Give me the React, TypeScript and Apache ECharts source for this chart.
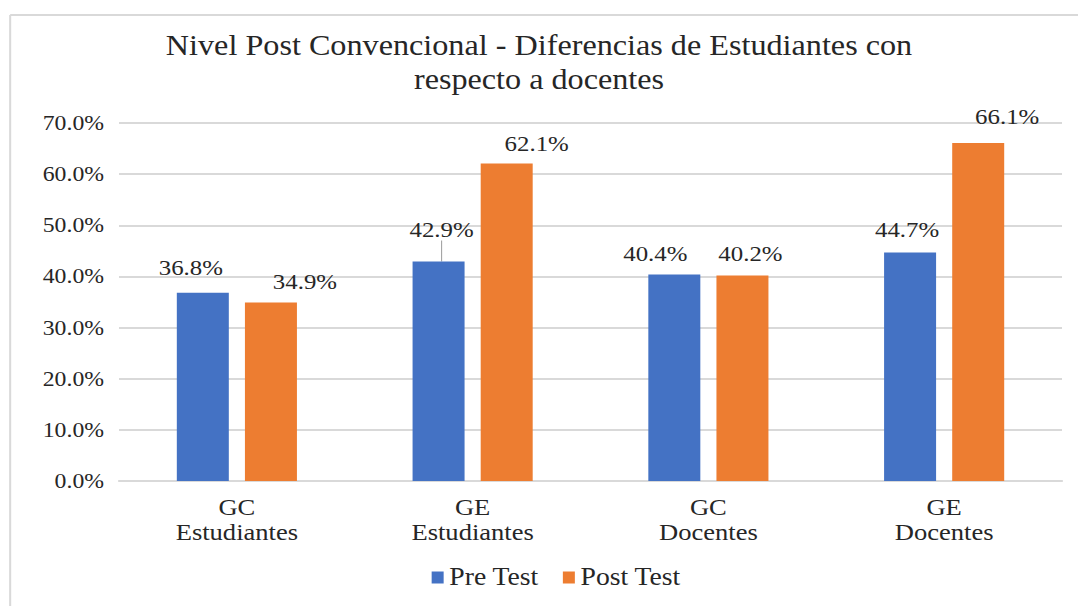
import React, { useEffect, useRef } from "react";
import * as echarts from "echarts";

const titleText = "Nivel Post Convencional - Diferencias de Estudiantes con\nrespecto a docentes";
const categories = ["GC\nEstudiantes", "GE\nEstudiantes", "GC\nDocentes", "GE\nDocentes"];
const preTest = [36.8, 42.9, 40.4, 44.7];
const postTest = [34.9, 62.1, 40.2, 66.1];
const yTicks = { min: 0, max: 70, interval: 10 };

// label displacement (dx, dy in page px) from default top position
const preOffsets = [[-12, -14], [3, -21], [-19, -10], [-3, -12]];
const postOffsets = [[34, -10], [30, -9], [8, -11], [29, -15]];

const FONT = "Liberation Serif, serif";
const S = 1.13; // horizontal stretch of the reference
const W = 1078 / S;
const TXT = "#262626";

export default function App() {
  const ref = useRef<HTMLDivElement>(null);
  useEffect(() => {
    if (!ref.current) return;
    const chart = echarts.init(ref.current, undefined, { renderer: "svg" });
    const labelBase = {
      show: true,
      position: "top",
      distance: 0,
      fontFamily: FONT,
      fontSize: 22,
      lineHeight: 22,
      color: TXT,
      formatter: (p: any) => Number(p.value).toFixed(1) + "%",
    };
    chart.setOption({
      animation: false,
      backgroundColor: "#ffffff",
      textStyle: { fontFamily: FONT },
      title: {
        text: titleText,
        left: "center",
        top: 24,
        textStyle: {
          fontFamily: FONT,
          fontSize: 28.5,
          fontWeight: "normal",
          lineHeight: 34,
          color: TXT,
        },
      },
      graphic: [
        { type: "line", shape: { x1: 9, y1: 15, x2: W, y2: 15 }, style: { stroke: "#d9d9d9", lineWidth: 2 } },
        { type: "line", shape: { x1: 9, y1: 15, x2: 9, y2: 606 }, style: { stroke: "#d9d9d9", lineWidth: 1.8 } },
      ],
      legend: {
        bottom: 11,
        left: 426 / S,
        itemWidth: 12 / S,
        itemHeight: 12,
        itemGap: 24 / S,
        icon: "rect",
        textStyle: { fontFamily: FONT, fontSize: 24.5, color: TXT },
        data: ["Pre Test", "Post Test"],
      },
      grid: { left: 119 / S, right: W - 1062 / S, top: 123, bottom: 125, containLabel: false },
      xAxis: {
        type: "category",
        data: categories,
        axisLine: { lineStyle: { color: "#d9d9d9", width: 2 } },
        axisTick: { show: false },
        axisLabel: {
          fontFamily: FONT,
          fontSize: 23.5,
          lineHeight: 25,
          color: TXT,
          margin: 14,
          interval: 0,
        },
      },
      yAxis: {
        type: "value",
        min: yTicks.min,
        max: yTicks.max,
        interval: yTicks.interval,
        axisLine: { show: false },
        axisTick: { show: false },
        splitLine: { lineStyle: { color: "#d9d9d9", width: 2 } },
        axisLabel: {
          fontFamily: FONT,
          fontSize: 21,
          color: TXT,
          margin: 15 / S,
          formatter: (v: number) => v.toFixed(1) + "%",
        },
      },
      series: [
        {
          name: "Pre Test",
          type: "bar",
          barWidth: 52 / S,
          barGap: "31%",
          itemStyle: { color: "#4472C4" },
          label: labelBase,
          labelLine: { show: false, lineStyle: { color: "#a6a6a6", width: 1 } },
          labelLayout: (p: any) => ({ dx: preOffsets[p.dataIndex][0] / S, dy: preOffsets[p.dataIndex][1] }),
          data: preTest.map((v, i) => ({
            value: v,
            labelLine: { show: i === 1, lineStyle: { color: "#a6a6a6", width: 1 } },
          })),
        },
        {
          name: "Post Test",
          type: "bar",
          barWidth: 52 / S,
          barGap: "31%",
          itemStyle: { color: "#ED7D31" },
          label: labelBase,
          labelLine: { show: false },
          labelLayout: (p: any) => ({ dx: postOffsets[p.dataIndex][0] / S, dy: postOffsets[p.dataIndex][1] }),
          data: postTest.map((v) => ({ value: v })),
        },
      ],
    });
    return () => chart.dispose();
  }, []);
  return (
    <div style={{ position: "absolute", left: 0, top: 0, width: 1078, height: 606, overflow: "hidden", background: "#fff" }}>
      <div
        ref={ref}
        style={{ width: W, height: 606, transform: `scaleX(${S})`, transformOrigin: "0 0" }}
      />
    </div>
  );
}
